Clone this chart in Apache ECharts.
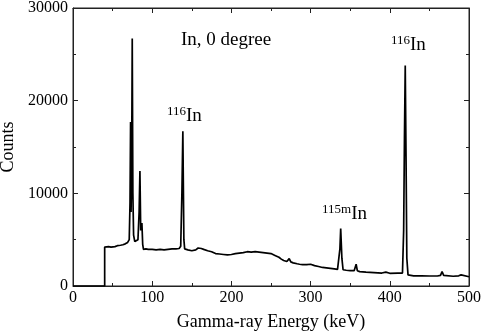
<!DOCTYPE html>
<html>
<head>
<meta charset="utf-8">
<script src="https://cdn.jsdelivr.net/npm/echarts@6/dist/echarts.min.js"></script>
<style>
  html, body { margin: 0; padding: 0; background: #fff; }
  #chart { width: 484px; height: 335px; }
</style>
</head>
<body>
<div id="chart"></div>
<script>
// spectrum: energy (keV) and counts
const energy = [
  0, 40, 40, 42, 45, 48, 50, 53, 56, 60, 63, 66, 69, 71,
  72, 72.7, 73.3, 74, 74.8, 75.6, 76.5, 78, 80, 82, 83.5, 84.5, 85.5, 86.2, 87, 88, 89,
  92, 95, 100, 105, 110, 115, 120, 125, 130, 134, 136, 137.5, 138.7, 140, 141,
  145, 150, 155, 158, 160, 162, 165, 170, 175, 180, 185, 190, 195, 200,
  205, 210, 215, 220, 225, 230, 235, 240, 245, 250, 255, 260, 263, 266, 270,
  273, 275, 278, 280, 283, 286, 290, 295, 300, 305, 310, 315, 320, 325, 330, 334,
  336, 337, 338, 339.5, 341, 345, 350, 355, 357.5, 359, 362, 370, 380, 390, 395,
  400, 410, 416, 417.5, 418.5, 419.5, 420.5, 421.5, 423, 425, 430, 440, 450, 460,
  464, 466, 468, 470, 480, 487, 490, 492, 500
];
const counts = [
  0, 0, 4200, 4300, 4250, 4200, 4300, 4250, 4350, 4400, 4450, 4550, 4700, 5000,
  9000, 17700, 8000, 12000, 26700, 10000, 5500, 4800, 4600, 5000, 8000, 12400, 6000, 6000, 6800, 4500, 3950,
  4000, 3950, 3950, 3900, 3950, 3900, 3950, 4000, 4000, 4050, 4300, 10000, 16700, 5000, 4000,
  3900, 3800, 3900, 4100, 4250, 4050, 3950, 3800, 3700, 3500, 3450, 3400, 3350, 3400,
  3500, 3550, 3600, 3700, 3650, 3700, 3650, 3600, 3550, 3500, 3300, 3100, 2900, 2750, 2650,
  2950, 2600, 2500, 2650, 2400, 2350, 2300, 2300, 2350, 2200, 2100, 2000, 1950, 1900, 1850, 1800,
  2000, 4000, 6200, 3000, 1750, 1700, 1650, 1650, 2350, 1650, 1550, 1500, 1450, 1400, 1500,
  1370, 1400, 1400, 6000, 16000, 23800, 14000, 3000, 1200, 1100, 1100, 1100, 1080, 1080,
  1150, 1550, 1150, 1080, 1050, 1100, 1200, 1050, 1000
];

const xTicks = [0, 100, 200, 300, 400, 500];
const yTicks = [0, 10000, 20000, 30000];

const serif = 'Liberation Serif';
const spectrum = energy.map((e, i) => [e, counts[i]]);

const myChart = echarts.init(document.getElementById('chart'));

const frameAxis = {
  axisLine: { show: true, onZero: false, lineStyle: { color: '#222', width: 1 } },
  axisTick: { show: true, inside: true, length: 5, lineStyle: { color: '#222' } },
  minorTick: { show: true, splitNumber: 2, length: 3, lineStyle: { color: '#222' } },
  splitLine: { show: false }
};

const supLabel = {
  s: { fontFamily: serif, fontSize: 13, padding: [0, 0, 8, 0], verticalAlign: 'bottom' },
  b: { fontFamily: serif, fontSize: 19, verticalAlign: 'bottom' }
};

const option = {
  animation: false,
  backgroundColor: '#fff',
  grid: {
    left: 73, right: 15, top: 8, bottom: 49,
    outerBoundsMode: 'none', containLabel: false,
    show: true, borderColor: '#222', borderWidth: 1, backgroundColor: 'transparent'
  },
  xAxis: [
    Object.assign({
      type: 'value',
      min: xTicks[0],
      max: xTicks[xTicks.length - 1],
      interval: 100,
      name: 'Gamma-ray Energy (keV)',
      nameLocation: 'middle',
      nameGap: 27,
      nameTextStyle: { fontFamily: serif, fontSize: 18, color: '#000' },
      axisLabel: { fontFamily: serif, fontSize: 16, color: '#000', margin: 4 }
    }, frameAxis),
    Object.assign({
      type: 'value',
      position: 'top',
      min: xTicks[0],
      max: xTicks[xTicks.length - 1],
      interval: 100,
      axisLabel: { show: false }
    }, frameAxis)
  ],
  yAxis: [
    Object.assign({
      type: 'value',
      min: yTicks[0],
      max: yTicks[yTicks.length - 1],
      interval: 10000,
      name: 'Counts',
      nameLocation: 'middle',
      nameGap: 50,
      nameTextStyle: { fontFamily: serif, fontSize: 18, color: '#000' },
      axisLabel: {
        fontFamily: serif, fontSize: 16, color: '#000', margin: 5,
        formatter: v => String(v)
      }
    }, frameAxis),
    Object.assign({
      type: 'value',
      position: 'right',
      min: yTicks[0],
      max: yTicks[yTicks.length - 1],
      interval: 10000,
      axisLabel: { show: false }
    }, frameAxis)
  ],
  series: [
    {
      type: 'line',
      data: spectrum,
      showSymbol: false,
      symbol: 'none',
      lineStyle: { color: '#000', width: 1.7 },
      z: 3
    }
  ],
  graphic: [
    {
      type: 'text', left: 181, top: 31,
      style: { text: 'In, 0 degree', fontFamily: serif, fontSize: 19, fill: '#000' }
    },
    {
      type: 'text', left: 167, top: 105,
      style: { text: '{s|116}{b|In}', fill: '#000', rich: supLabel }
    },
    {
      type: 'text', left: 322, top: 203,
      style: { text: '{s|115m}{b|In}', fill: '#000', rich: supLabel }
    },
    {
      type: 'text', left: 391, top: 34,
      style: { text: '{s|116}{b|In}', fill: '#000', rich: supLabel }
    }
  ]
};

myChart.setOption(option);
window.addEventListener('resize', function () {
  myChart.resize();
});
</script>
</body>
</html>
